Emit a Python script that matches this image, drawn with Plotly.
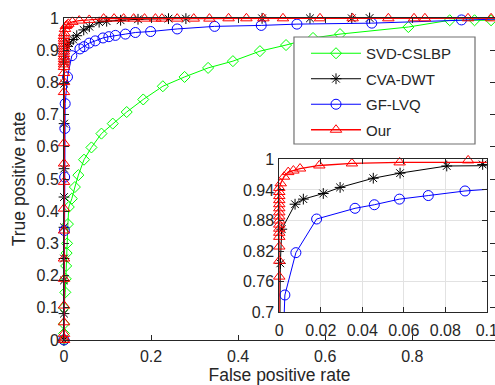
import plotly.graph_objects as go

# ---------------- data ----------------
svd_fpr = [0, 0, 0, 0, 0.003, 0.004, 0.005, 0.006, 0.007, 0.009, 0.011, 0.018, 0.025, 0.033,
           0.046, 0.063, 0.086, 0.112, 0.144, 0.182, 0.227, 0.277, 0.331, 0.388, 0.45, 0.51,
           0.572, 0.634, 0.791, 0.886, 0.943, 0.981, 1.0]
svd_tpr = [0, 0.02, 0.05, 0.10, 0.148, 0.19, 0.23, 0.27, 0.30, 0.36, 0.413, 0.439, 0.475, 0.512,
           0.56, 0.598, 0.641, 0.672, 0.708, 0.747, 0.788, 0.817, 0.845, 0.866, 0.897, 0.916,
           0.938, 0.950, 0.972, 0.993, 0.993, 0.993, 1.0]

cva_fpr = [0, 0, 0, 0, 0, 0, 0.0002, 0.0003, 0.0005, 0.0012, 0.0076, 0.0116, 0.0212, 0.0293,
           0.0453, 0.0582, 0.0807, 0.098, 0.13, 0.17, 0.24, 0.28, 0.455, 0.565, 0.661, 0.702, 1.0]
cva_tpr = [0, 0.082, 0.185, 0.253, 0.35, 0.444, 0.532, 0.672, 0.796, 0.863, 0.912, 0.922, 0.933,
           0.945, 0.963, 0.973, 0.987, 0.99, 0.993, 0.996, 0.998, 0.998, 0.999, 0.999, 0.999, 1.0, 1.0]

gf_fpr = [0, 0.001, 0.0015, 0.002, 0.0027, 0.008, 0.018, 0.0365, 0.0458, 0.0579, 0.0718, 0.0895,
          0.103, 0.118, 0.141, 0.164, 0.199, 0.26, 0.346, 0.453, 0.535, 0.707, 0.913, 1.0]
gf_tpr = [0, 0.34, 0.506, 0.657, 0.734, 0.817, 0.883, 0.904, 0.911, 0.922, 0.929, 0.938,
          0.942, 0.946, 0.95, 0.955, 0.958, 0.966, 0.974, 0.977, 0.981, 0.984, 0.994, 0.997]

our_fpr = [0, 0, 0, 0, 0, 0, 0, 0, 0, 0, 0, 0, 0, 0, 0, 0,
           0, 0, 0, 0, 0, 0, 0, 0, 0, 0, 0, 0,
           0.0007, 0.0023, 0.0043, 0.0068, 0.01, 0.0193, 0.035, 0.058, 0.091,
           0.115, 0.137, 0.16, 0.185, 0.21, 0.225, 0.26, 0.298, 0.334, 0.378, 0.419, 0.458,
           0.503, 0.588, 0.663, 0.745, 0.804, 0.829, 0.928, 0.981, 1.0]
our_tpr = [0, 0.005, 0.019, 0.055, 0.107, 0.19, 0.253, 0.34, 0.408, 0.491, 0.548, 0.611, 0.77,
           0.801, 0.829, 0.848,
           0.856, 0.864, 0.872, 0.88, 0.888, 0.896, 0.904, 0.912, 0.92, 0.928, 0.936, 0.944,
           0.953, 0.966, 0.975, 0.978, 0.982, 0.988, 0.992, 0.994, 0.998,
           0.998, 0.998, 0.998, 0.998, 0.998, 0.998, 0.998, 0.998, 0.998, 0.999, 0.999, 0.999,
           0.999, 0.999, 0.999, 0.999, 0.999, 0.999, 0.999, 0.999, 1.0]

names = ["SVD-CSLBP", "CVA-DWT", "GF-LVQ", "Our"]

main_xticks = [0, 0.2, 0.4, 0.6, 0.8, 1]
main_xtext = ["0", "0.2", "0.4", "0.6", "0.8", "1"]
main_yticks = [0, 0.1, 0.2, 0.3, 0.4, 0.5, 0.6, 0.7, 0.8, 0.9, 1]
main_ytext = ["0", "0.1", "0.2", "0.3", "0.4", "0.5", "0.6", "0.7", "0.8", "0.9", "1"]
inset_xticks = [0, 0.02, 0.04, 0.06, 0.08, 0.1]
inset_xtext = ["0", "0.02", "0.04", "0.06", "0.08", "0.1"]
inset_yticks = [0.7, 0.76, 0.82, 0.88, 0.94, 1]
inset_ytext = ["0.7", "0.76", "0.82", "0.88", "0.94", "1"]

# ---------------- styles ----------------
series = [
    (svd_fpr, svd_tpr, "#00ff00", "diamond-open", 8.5, 1.0),
    (cva_fpr, cva_tpr, "#000000", "asterisk-open", 9, 1.0),
    (gf_fpr, gf_tpr, "#0000ff", "circle-open", 10, 1.0),
    (our_fpr, our_tpr, "#ff0000", "triangle-up-open", 10, 1.3),
]
INX = (0, 0.1)
INY = (0.7, 1.0)
TXT = "#262626"
FONT = "Arial, 'Liberation Sans', sans-serif"

fig = go.Figure()
for (fx, ty, col, sym, ms, lw), nm in zip(series, names):
    fig.add_trace(go.Scatter(
        x=fx, y=ty, name=nm, mode="lines+markers", cliponaxis=False, legendgroup=nm,
        line=dict(color=col, width=lw),
        marker=dict(symbol=sym, size=ms, color=col, line=dict(color=col, width=1)),
        xaxis="x", yaxis="y"))

for (fx, ty, col, sym, ms, lw), nm in zip(series, names):
    if nm == "SVD-CSLBP":
        continue
    fig.add_trace(go.Scatter(
        x=fx, y=ty, name=nm, mode="lines", showlegend=False, cliponaxis=True, legendgroup=nm,
        line=dict(color=col, width=lw), xaxis="x2", yaxis="y2"))
    px = [a for a, b in zip(fx, ty) if INX[0] <= a <= INX[1] and INY[0] <= b <= INY[1]]
    py = [b for a, b in zip(fx, ty) if INX[0] <= a <= INX[1] and INY[0] <= b <= INY[1]]
    fig.add_trace(go.Scatter(
        x=px, y=py, name=nm, mode="markers", showlegend=False, cliponaxis=False, legendgroup=nm,
        marker=dict(symbol=sym, size=ms, color=col, line=dict(color=col, width=1)),
        xaxis="x2", yaxis="y2"))

axis_common = dict(showline=True, linecolor=TXT, linewidth=1, mirror="ticks", ticks="inside",
                   ticklen=5, tickcolor=TXT, zeroline=False, tickmode="array", automargin=False,
                   ticklabeloverflow="allow",
                   tickfont=dict(size=16, color=TXT, family=FONT))

fig.update_layout(
    template="none",
    width=495, height=385,
    margin=dict(l=64, r=0, t=18, b=45, pad=0),
    paper_bgcolor="white", plot_bgcolor="white",
    font=dict(family=FONT, color=TXT),
    xaxis=dict(domain=[0, 1], range=[0, 0.99], tickvals=main_xticks, ticktext=main_xtext,
               showgrid=False, anchor="y", ticklabelstandoff=2,
               title=dict(text="False positive rate", font=dict(size=17.5, color=TXT), standoff=3),
               **axis_common),
    yaxis=dict(domain=[0, 1], range=[0, 1], tickvals=main_yticks, ticktext=main_ytext,
               showgrid=False, anchor="x", ticklabelstandoff=1,
               title=dict(text="True positive rate", font=dict(size=17.5, color=TXT), standoff=6),
               **axis_common),
    xaxis2=dict(domain=[0.4995, 0.981], range=list(INX), tickvals=inset_xticks, ticktext=inset_xtext,
                showgrid=True, gridcolor="#e2e2e2", anchor="y2", ticklabelstandoff=3, **axis_common),
    yaxis2=dict(domain=[0.086, 0.561], range=list(INY), tickvals=inset_yticks, ticktext=inset_ytext,
                showgrid=True, gridcolor="#e2e2e2", anchor="x2", ticklabelstandoff=1, **axis_common),
    legend=dict(x=0.5615, y=0.941, xanchor="left", yanchor="top", bgcolor="rgba(0,0,0,0)",
                borderwidth=0, font=dict(size=15, color=TXT, family=FONT),
                itemwidth=50, tracegroupgap=3),
    shapes=[dict(type="rect", xref="paper", yref="paper", x0=0.5336, x1=0.9536, y0=0.6087, y1=0.941,
                 fillcolor="white", line=dict(color="#707070", width=1.2), layer="above")],
    showlegend=True,
)

fig.write_html("out.html", config={"displayModeBar": False},
               post_script="document.body.style.margin='0';document.body.style.padding='0';")
